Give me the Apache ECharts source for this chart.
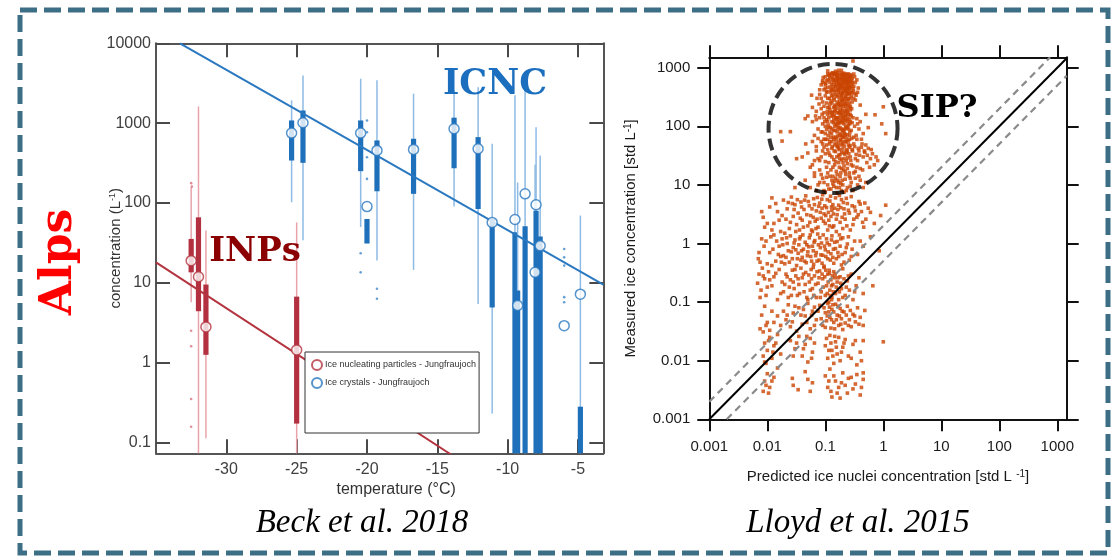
<!DOCTYPE html>
<html>
<head>
<meta charset="utf-8">
<script src="https://cdn.jsdelivr.net/npm/echarts@6/dist/echarts.min.js"></script>
<style>
  html, body { margin: 0; padding: 0; background: #fff; }
  #chart { width: 1114px; height: 556px; }
</style>
</head>
<body>
<div id="chart"></div>
<script>
// ---------- Beck et al. 2018: Jungfraujoch statistics per temperature bin ----------
// ice nucleating particles (L^-1)
const inpTemp = [-32.5, -31.98, -31.45, -25.0];
const inpLow  = [5.7, 0.03, 0.113, 0.03];
const inpQ1   = [13.5, 4.4, 1.25, 0.172];
const inpMean = [18.9, 11.9, 2.8, 1.44];
const inpQ3   = [35.4, 66, 9.5, 6.7];
const inpHigh = [157, 1620, 45, 57];
const inpOutlierTemp = [-32.5, -32.5, -32.5, -32.5, -32.5, -32.45];
const inpOutlierConc = [177, 2.5, 1.6, 0.35, 0.157, 160];

// ice crystals (L^-1)
const icncTemp = [-25.36, -24.55, -20.45, -20.0, -19.29, -16.69, -13.81, -12.1, -11.1, -9.48, -9.29, -8.76, -8.05, -7.98, -7.69, -5.98, -4.83];
const icncLow  = [102, 34, 50, null, 19, 14.5, 90, 5.4, 0.23, 0.03, 0.03, 0.03, 11, 0.03, 0.03, null, 0.03];
const icncQ1   = [340, 318, 250, 31, 140, 130, 272, 84, 4.9, 0.03, 0.03, 0.03, null, 0.03, 0.03, null, 0.03];
const icncMean = [750, 1010, 750, 90, 455, 468, 850, 477, 57, 62, 5.2, 130, 13.5, 95, 29, 2.9, 7.2];
const icncQ3   = [1080, 1440, 1080, 63, 607, 637, 1170, 668, 63, 43, 8, 51, null, 80, 38, null, 0.28];
const icncHigh = [1930, 3960, 3600, null, 3440, 2340, 2600, 2820, 552, 2230, 180, 2700, 300, 890, 394, null, 69.5];
const icncOutlierTemp = [-20.45, -20.45, -20.0, -20.0, -20.0, -20.0, -19.29, -19.29, -5.98, -5.98, -5.98, -5.98, -5.98];
const icncOutlierConc = [23.4, 13.5, 1080, 770, 374, 200, 8.4, 6.3, 26.5, 20.8, 16.4, 6.6, 5.7];

// exponential fits (end points)
const inpFit  = [[-35, 18], [-14, 0.07]];
const icncFit = [[-33.3, 10000], [-3.2, 9.5]];

const tempTicks = [-30, -25, -20, -15, -10, -5];
const concTicks = [0.1, 1, 10, 100, 1000, 10000];

// ---------- Lloyd et al. 2015: measured vs predicted (std L^-1) ----------
const lloydPoints = [
  // upper group (> 7 std L^-1)
  [0.30,1300],[0.11,780],[0.14,760],[0.17,900],[0.21,700],[0.25,780],[0.12,640],[0.16,600],[0.19,560],[0.23,650],
  [0.28,600],[0.32,700],[0.09,560],[0.13,520],[0.18,720],[0.20,800],[0.15,790],[0.24,540],[0.27,760],[0.10,700],
  [0.135,820],[0.22,770],[0.29,520],[0.35,620],[0.085,510],[0.155,700],[0.19,640],[0.26,680],[0.12,560],[0.17,520],
  [0.21,590],[0.14,640],[0.31,780],[0.105,600],[0.23,760],[0.16,820],[0.28,720],[0.2,520],[0.115,740],[0.25,580],
  [0.08,350],[0.095,420],[0.11,460],[0.125,380],[0.14,300],[0.15,470],[0.165,340],[0.18,420],[0.19,280],[0.2,360],
  [0.21,450],[0.225,310],[0.24,400],[0.26,250],[0.28,330],[0.3,440],[0.33,280],[0.36,380],[0.09,260],[0.1,330],
  [0.12,240],[0.13,430],[0.145,220],[0.16,260],[0.17,380],[0.185,230],[0.2,300],[0.215,250],[0.23,470],[0.25,360],
  [0.27,220],[0.29,260],[0.31,300],[0.4,230],[0.085,300],[0.105,380],[0.118,300],[0.135,340],[0.155,410],[0.175,300],
  [0.195,450],[0.205,220],[0.235,270],[0.255,430],[0.275,380],[0.34,340],[0.11,210],[0.15,230],[0.19,340],[0.22,400],
  [0.125,270],[0.165,450],[0.245,230],[0.305,400],[0.138,480],[0.182,490],[0.095,220],[0.265,480],[0.06,210],[0.058,340],
  [0.72,157],[0.94,110],[1.1,75],[1.0,215],[0.017,81],[0.025,81],[0.018,56],[0.045,135],[0.046,50],[0.032,28],
  [0.05,150],[0.06,120],[0.07,180],[0.075,90],[0.08,140],[0.09,110],[0.095,170],[0.1,75],[0.105,130],[0.11,160],
  [0.115,95],[0.12,190],[0.125,65],[0.13,120],[0.135,150],[0.14,85],[0.145,180],[0.15,110],[0.155,60],[0.16,140],
  [0.165,95],[0.17,170],[0.175,70],[0.18,125],[0.185,190],[0.19,90],[0.195,55],[0.2,150],[0.21,110],[0.215,75],
  [0.22,180],[0.23,130],[0.24,95],[0.25,160],[0.26,60],[0.27,120],[0.28,85],[0.3,140],[0.32,100],[0.34,70],
  [0.36,110],[0.38,90],[0.42,60],[0.45,75],[0.065,70],[0.085,55],[0.1,100],[0.115,140],[0.13,55],[0.145,100],
  [0.16,80],[0.175,115],[0.19,165],[0.205,65],[0.225,100],[0.245,140],[0.265,80],[0.29,115],[0.31,65],[0.35,135],
  [0.4,120],[0.5,160],[0.55,95],[0.07,130],[0.09,80],[0.11,60],[0.135,175],[0.155,130],[0.185,60],[0.27,190],
  [0.2,85],[0.17,52],
  [0.05,35],[0.06,22],[0.07,45],[0.075,28],[0.08,18],[0.09,38],[0.1,25],[0.105,48],[0.11,16],[0.12,32],
  [0.13,42],[0.135,20],[0.14,27],[0.15,37],[0.16,15],[0.165,46],[0.17,24],[0.18,33],[0.19,19],[0.2,41],
  [0.21,28],[0.22,17],[0.23,36],[0.24,23],[0.25,48],[0.27,30],[0.29,40],[0.3,21],[0.32,45],[0.34,33],
  [0.36,26],[0.38,38],[0.4,19],[0.42,44],[0.45,30],[0.48,36],[0.52,24],[0.55,42],[0.6,28],[0.65,34],
  [0.7,22],[0.8,26],[0.065,16],[0.085,30],[0.095,44],[0.115,35],[0.145,48],[0.175,40],[0.205,18],[0.26,16],
  [0.33,17],[0.44,18],[0.5,48],[0.58,20],[0.04,30],
  [0.045,12],[0.055,9],[0.065,14],[0.07,8],[0.08,11],[0.09,13],[0.1,7.5],[0.11,10],[0.12,14],[0.125,8.5],
  [0.13,12],[0.14,9.5],[0.15,13],[0.16,7.2],[0.17,11],[0.18,14],[0.19,8],[0.2,10],[0.22,12.5],[0.24,9],
  [0.26,14],[0.28,11],[0.3,8],[0.33,13],[0.36,10],[0.4,12],[0.45,9],[0.5,11],[0.075,10],[0.095,8],
  [0.105,13.5],[0.145,11.5],[0.175,9],[0.21,7.5],[0.03,9],
  [0.09,600],[0.1,450],[0.11,300],[0.12,720],[0.13,250],[0.14,560],[0.15,350],[0.16,680],[0.17,240],[0.18,520],
  [0.19,760],[0.2,270],[0.21,620],[0.22,330],[0.23,560],[0.24,700],[0.25,300],[0.26,540],[0.12,170],[0.13,90],
  [0.14,210],[0.15,140],[0.16,200],[0.17,110],[0.18,160],[0.19,120],[0.2,190],[0.21,140],[0.22,70],[0.23,200],
  [0.24,120],[0.25,90],[0.26,210],[0.28,150],[0.1,60],[0.11,120],[0.12,80],[0.13,170],[0.14,130],[0.15,65],
  [0.16,170],[0.17,140],[0.18,95],[0.19,70],[0.2,115],[0.21,88],[0.22,150],[0.23,62],[0.11,40],[0.12,55],
  [0.13,30],[0.14,60],[0.15,25],[0.16,45],[0.17,32],[0.18,58],[0.19,27],[0.2,50],[0.21,35],[0.22,55],
  [0.23,26],[0.24,38],[0.26,44],[0.28,22],[0.12,780],[0.14,790],[0.16,760],[0.18,800],[0.2,740],[0.24,770],
  [0.13,800],[0.15,870],[0.17,640],[0.19,900],[0.21,800],[0.27,700],[0.1,520],[0.11,880],[0.125,410],[0.135,620],
  [0.145,390],[0.155,540],[0.165,600],[0.175,460],[0.185,370],[0.195,610],[0.205,400],[0.215,520],[0.225,430],[0.235,350],
  [0.245,600],[0.255,470],[0.29,650],[0.31,480],[0.33,560],[0.37,450],[0.08,420],[0.085,200],[0.095,140],[0.105,250],
  [0.092,680],[0.102,540],[0.108,390],[0.112,620],[0.122,470],[0.128,330],[0.132,690],[0.138,420],[0.142,280],[0.148,610],
  [0.152,500],[0.158,320],[0.162,730],[0.168,410],[0.172,560],[0.178,260],[0.182,650],[0.188,330],[0.192,480],[0.198,700],
  [0.202,380],[0.208,560],[0.212,290],[0.218,670],[0.222,450],[0.228,240],[0.232,610],[0.238,380],[0.242,500],[0.248,290],
  [0.252,650],[0.258,360],[0.262,440],[0.268,580],[0.272,300],[0.278,470],[0.285,380],[0.295,560],[0.32,360],[0.118,210],
  [0.128,150],[0.138,115],[0.148,190],[0.158,105],[0.168,230],[0.178,180],[0.188,140],[0.198,240],[0.208,170],[0.218,125],
  [0.228,160],[0.238,185],[0.248,105],[0.258,130],[0.268,160],[0.285,200],[0.108,180],[0.098,120],[0.088,160],[0.078,240],
  [0.072,300],[0.068,150],[0.113,105],[0.143,155],[0.163,120],[0.183,215],[0.203,130],[0.223,225],[0.243,175],[0.263,110],
  [0.085,80],[0.095,60],[0.105,88],[0.112,70],[0.118,50],[0.122,95],[0.128,75],[0.132,45],[0.138,65],[0.142,38],
  [0.148,85],[0.152,52],[0.158,30],[0.162,68],[0.168,42],[0.172,90],[0.178,28],[0.182,76],[0.188,48],[0.192,36],
  [0.198,66],[0.202,24],[0.208,80],[0.212,46],[0.218,33],[0.222,92],[0.228,54],[0.232,40],[0.238,72],[0.242,29],
  [0.25,56],[0.255,34],[0.262,70],[0.268,47],[0.275,26],[0.285,62],[0.295,38],[0.31,50],[0.33,28],[0.35,60],
  [0.37,42],[0.39,32],[0.43,50],[0.47,38],[0.53,32],[0.62,40],[0.75,30],[0.06,55],[0.07,38],[0.075,62],
  [0.08,26],[0.09,50],[0.1,34],[0.105,20],[0.115,24],[0.125,18],[0.135,14],[0.145,22],[0.155,17],[0.165,12],
  [0.175,20],[0.185,16],[0.195,12],[0.21,21],[0.225,15],[0.24,19],[0.27,13],[0.31,16],[0.35,20],[0.38,14],
  [0.055,20],[0.065,26],[0.085,15],[0.095,11],[0.115,8.5],[0.135,10.5],[0.155,9],[0.185,10.5],[0.23,8],[0.27,9.5],
  // lower group (< 7 std L^-1)
  [0.0085,2.8],[0.009,1.9],[0.011,4.2],[0.013,2.2],[0.015,3.5],[0.017,1.6],[0.019,5.5],[0.021,2.6],[0.022,3.9],[0.024,1.8],
  [0.026,6.2],[0.028,2.9],[0.03,4.6],[0.032,2.1],[0.034,3.3],[0.036,1.7],[0.038,5.1],[0.04,2.5],[0.043,3.8],[0.046,6.5],
  [0.05,2.0],[0.053,4.4],[0.056,3.0],[0.06,1.6],[0.063,5.8],[0.067,2.4],[0.07,3.6],[0.075,1.9],[0.08,4.9],[0.085,2.7],
  [0.09,6.8],[0.095,3.2],[0.1,2.2],[0.105,4.1],[0.11,1.7],[0.12,5.3],[0.125,2.9],[0.13,3.7],[0.14,2.0],[0.15,6.0],
  [0.16,3.1],[0.17,4.5],[0.18,2.3],[0.19,5.6],[0.2,1.8],[0.21,3.9],[0.22,2.6],[0.24,4.8],[0.26,3.3],[0.28,6.3],
  [0.3,2.1],[0.32,4.2],[0.35,2.8],[0.38,5.2],[0.42,3.5],[0.46,1.9],[0.5,2.6],[0.55,4.0],[0.7,2.2],[0.9,3.0],
  [1.1,4.5],[0.012,6.0],[0.016,2.5],[0.027,4.8],[0.044,5.5],[0.058,1.7],[0.073,6.1],[0.088,4.0],[0.115,2.5],[0.135,4.6],
  [0.155,1.6],[0.175,6.6],[0.23,5.9],[0.27,1.7],[0.33,3.6],[0.4,4.7],
  [0.008,3.5],[0.01,2.2],[0.012,1.7],[0.014,4.8],[0.018,3.0],[0.02,1.5],[0.023,5.0],[0.025,2.3],[0.029,3.8],[0.031,1.6],
  [0.033,5.6],[0.037,2.7],[0.039,4.2],[0.042,1.9],[0.048,3.1],[0.051,5.2],[0.054,2.3],[0.059,3.9],[0.062,2.8],[0.065,4.6],
  [0.069,1.8],[0.072,2.6],[0.077,4.3],[0.082,3.4],[0.087,5.7],[0.093,2.4],[0.098,4.4],[0.102,3.0],[0.108,5.6],[0.113,3.4],
  [0.118,2.0],[0.123,6.4],[0.128,4.2],[0.133,1.9],[0.138,3.2],[0.145,4.0],[0.155,2.6],[0.165,3.8],[0.185,4.1],[0.195,2.8],
  [0.205,5.0],[0.215,3.2],[0.235,2.0],[0.25,3.7],[0.29,4.4],[0.31,2.6],[0.37,3.1],[0.44,2.3],[0.48,4.9],[0.6,3.4],
  [0.007,0.55],[0.0075,0.48],[0.0095,1.1],[0.011,0.7],[0.013,1.4],[0.014,0.5],[0.016,0.9],[0.018,1.2],[0.019,0.62],[0.02,0.45],
  [0.022,1.0],[0.023,0.75],[0.025,1.35],[0.027,0.55],[0.028,0.85],[0.03,1.15],[0.032,0.42],[0.034,0.68],[0.035,0.95],[0.037,1.3],
  [0.04,0.58],[0.042,0.8],[0.045,1.05],[0.047,0.47],[0.05,0.72],[0.053,1.25],[0.056,0.6],[0.06,0.9],[0.063,0.44],[0.066,1.12],
  [0.07,0.7],[0.074,1.45],[0.078,0.52],[0.082,0.85],[0.086,1.02],[0.09,0.63],[0.095,0.41],[0.1,0.78],[0.105,1.2],[0.11,0.55],
  [0.118,0.95],[0.125,0.67],[0.13,1.35],[0.14,0.46],[0.15,0.82],[0.16,1.08],[0.17,0.6],[0.18,0.9],[0.19,0.43],[0.2,1.25],
  [0.22,0.7],[0.24,0.98],[0.26,0.52],[0.29,0.8],[0.32,1.1],[0.36,0.65],[0.45,0.9],[0.6,1.3],[0.85,0.75],[0.012,0.42],
  [0.017,0.6],[0.024,0.48],[0.031,0.78],[0.038,0.52],[0.048,0.95],[0.058,0.5],[0.068,0.62],[0.092,1.4],[0.135,0.58],[0.175,1.4],
  [0.21,0.48],
  [0.0072,0.7],[0.008,1.2],[0.0088,0.9],[0.01,0.45],[0.0115,1.3],[0.0125,0.8],[0.0145,1.1],[0.0155,0.65],[0.0175,0.48],[0.0185,0.95],
  [0.021,0.58],[0.0215,1.25],[0.026,0.72],[0.029,1.02],[0.033,0.55],[0.036,1.2],[0.039,0.75],[0.041,1.4],[0.044,0.5],[0.049,0.62],
  [0.052,0.88],[0.055,1.4],[0.062,0.75],[0.064,1.05],[0.072,0.5],[0.076,0.95],[0.08,1.25],[0.084,0.64],[0.088,0.46],[0.097,0.9],
  [0.102,0.6],[0.108,1.02],[0.112,0.72],[0.122,0.52],[0.128,1.15],[0.138,0.8],[0.145,1.05],[0.155,0.55],[0.165,0.7],[0.185,1.2],
  [0.195,0.65],[0.23,0.85],[0.25,1.3],[0.28,0.6],[0.4,1.1],
  [0.0068,0.21],[0.0072,0.3],[0.0078,0.16],[0.0082,0.38],[0.009,0.25],[0.0095,0.13],[0.0105,0.33],[0.012,0.19],[0.013,0.27],[0.015,0.11],
  [0.016,0.36],[0.018,0.22],[0.019,0.15],[0.021,0.3],[0.023,0.12],[0.025,0.24],[0.027,0.35],[0.029,0.17],[0.031,0.28],[0.033,0.13],
  [0.035,0.2],[0.038,0.38],[0.04,0.26],[0.043,0.15],[0.046,0.32],[0.05,0.11],[0.053,0.22],[0.057,0.36],[0.06,0.17],[0.065,0.28],
  [0.07,0.12],[0.075,0.21],[0.08,0.34],[0.085,0.15],[0.09,0.25],[0.095,0.39],[0.1,0.13],[0.105,0.19],[0.11,0.3],[0.115,0.1],
  [0.12,0.16],[0.125,0.24],[0.13,0.12],[0.135,0.2],[0.14,0.33],[0.15,0.14],[0.16,0.22],[0.17,0.11],[0.18,0.27],[0.19,0.17],
  [0.2,0.37],[0.22,0.13],[0.24,0.23],[0.26,0.16],[0.28,0.3],[0.3,0.11],[0.34,0.19],[0.38,0.26],[0.45,0.14],[0.66,0.19],
  [0.024,0.18],[0.062,0.39],[0.117,0.35],[0.128,0.11],[0.145,0.26],
  [0.0075,0.12],[0.0085,0.28],[0.01,0.18],[0.011,0.24],[0.014,0.31],[0.017,0.14],[0.02,0.2],[0.022,0.27],[0.026,0.13],[0.028,0.22],
  [0.03,0.36],[0.034,0.25],[0.036,0.14],[0.042,0.3],[0.045,0.2],[0.048,0.12],[0.052,0.29],[0.055,0.16],[0.058,0.25],[0.063,0.13],
  [0.068,0.2],[0.072,0.33],[0.078,0.26],[0.082,0.12],[0.088,0.3],[0.092,0.18],[0.098,0.27],[0.102,0.35],[0.108,0.14],[0.112,0.22],
  [0.118,0.31],[0.122,0.13],[0.128,0.19],[0.132,0.28],[0.138,0.15],[0.148,0.3],[0.155,0.18],[0.165,0.26],[0.175,0.15],[0.185,0.21],
  [0.2,0.12],[0.21,0.25],[0.23,0.18],[0.25,0.28],[0.32,0.15],
  [0.0075,0.035],[0.008,0.06],[0.0085,0.031],[0.009,0.085],[0.01,0.045],[0.011,0.033],[0.019,0.07],[0.021,0.05],[0.023,0.09],[0.025,0.038],
  [0.028,0.065],[0.035,0.08],[0.04,0.042],[0.045,0.058],[0.05,0.095],[0.055,0.035],[0.06,0.07],[0.07,0.05],[0.08,0.088],[0.09,0.04],
  [0.1,0.066],[0.105,0.048],[0.11,0.095],[0.12,0.055],[0.125,0.036],[0.13,0.075],[0.14,0.045],[0.15,0.092],[0.16,0.06],[0.17,0.04],
  [0.18,0.078],[0.19,0.052],[0.2,0.034],[0.21,0.068],[0.22,0.044],[0.24,0.085],[0.26,0.05],[0.28,0.038],[0.3,0.062],[0.33,0.046],
  [0.36,0.08],[0.4,0.055],[0.45,0.04],[0.48,0.072],[0.015,0.058],[0.017,0.04],[0.032,0.032],[0.065,0.082],[0.115,0.068],[0.135,0.09],
  [0.0095,0.04],[0.012,0.07],[0.013,0.045],[0.022,0.06],[0.027,0.046],[0.03,0.085],[0.038,0.06],[0.042,0.075],[0.048,0.045],[0.058,0.06],
  [0.065,0.04],[0.075,0.07],[0.085,0.052],[0.095,0.08],[0.1,0.037],[0.108,0.058],[0.118,0.082],[0.128,0.05],[0.14,0.068],[0.145,0.035],
  [0.155,0.05],[0.165,0.085],[0.175,0.058],[0.185,0.042],[0.195,0.07],[0.23,0.06],[0.25,0.04],[0.27,0.072],[0.32,0.058],[0.38,0.042],
  [0.0085,0.012],[0.009,0.02],[0.0095,0.009],[0.01,0.015],[0.011,0.025],[0.012,0.011],[0.013,0.018],[0.015,0.028],[0.017,0.013],[0.025,0.022],
  [0.03,0.016],[0.035,0.026],[0.04,0.012],[0.045,0.019],[0.05,0.0095],[0.055,0.024],[0.06,0.014],[0.1,0.018],[0.11,0.011],[0.12,0.027],
  [0.13,0.015],[0.14,0.009],[0.15,0.021],[0.16,0.013],[0.17,0.025],[0.18,0.01],[0.2,0.017],[0.22,0.023],[0.25,0.012],[0.3,0.019],
  [0.35,0.0085],[0.4,0.014],[0.45,0.022],[1.0,0.021],[0.065,0.02],
  [0.009,0.0095],[0.0105,0.022],[0.0125,0.014],[0.014,0.02],[0.028,0.012],[0.032,0.02],[0.042,0.016],[0.048,0.026],[0.058,0.011],[0.105,0.024],
  [0.115,0.015],[0.125,0.02],[0.135,0.012],[0.145,0.026],[0.155,0.017],[0.19,0.014],[0.21,0.02],[0.28,0.011],[0.33,0.022],[0.42,0.01],
  [0.0085,0.003],[0.009,0.0045],[0.01,0.006],[0.011,0.0035],[0.013,0.0052],[0.027,0.005],[0.034,0.0032],[0.045,0.0065],[0.055,0.003],[0.06,0.0042],
  [0.1,0.0055],[0.11,0.0035],[0.12,0.0072],[0.13,0.0024],[0.15,0.0045],[0.16,0.0028],[0.18,0.0023],[0.2,0.0062],[0.22,0.0038],[0.25,0.005],
  [0.3,0.0033],[0.35,0.0058],[0.4,0.0026],[0.45,0.0048],[0.015,0.0075],
  [0.0095,0.0038],[0.0105,0.0028],[0.012,0.0045],[0.028,0.0038],[0.05,0.0048],[0.115,0.0045],[0.125,0.003],[0.14,0.0055],[0.17,0.0035],[0.19,0.0042],
  [0.24,0.0028],[0.28,0.0052],[0.33,0.004],[0.42,0.0035],[0.45,0.0062]
];
// 1:1 line and factor-of-two bounds (end points)
const oneToOne   = [[0.001, 0.001], [1452, 1452]];
const upperBound = [[0.001, 0.002], [752, 1504]];
const lowerBound = [[0.002, 0.001], [1452, 726]];
// highlighted region (centre of the dashed ring)
const sipCentre = [0.136, 92];
const decadeTicks = [0.001, 0.01, 0.1, 1, 10, 100, 1000];

const INP_NAME  = 'Ice nucleating particles - Jungfraujoch';
const ICNC_NAME = 'Ice crystals - Jungfraujoch';

const RED_BOX = '#b2303f', RED_WHISKER = '#e9a3ab', RED_LINE = '#b3343f', RED_DOT = '#d8707c';
const BLUE_BOX = '#1f70ba', BLUE_WHISKER = '#8dbbe5', BLUE_LINE = '#2a78c0', BLUE_DOT = '#3f87c9';
const SANS = '"Liberation Sans", Arial, sans-serif';

const zip = (...cols) => cols[0].map((_, i) => cols.map(c => c[i]));
const powLabel = v => {
  const l = Math.log10(v);
  return Math.abs(l - Math.round(l)) < 1e-6 ? String(Number(v.toPrecision(6))) : '';
};

function boxRenderer(boxColor, whiskerColor) {
  return function (params, api) {
    const cs = params.coordSys;
    const clamp = y => Math.max(cs.y, Math.min(cs.y + cs.height, y));
    const t = api.value(0);
    const low = api.value(1), q1 = api.value(2), q3 = api.value(4), high = api.value(5);
    const children = [];
    if (low > 0 && high > 0) {
      const a = api.coord([t, low]), b = api.coord([t, high]);
      children.push({ type: 'line', shape: { x1: a[0], y1: clamp(a[1]), x2: b[0], y2: clamp(b[1]) },
        style: { stroke: whiskerColor, lineWidth: 1.5 } });
    }
    if (q1 > 0 && q3 > 0) {
      const a = api.coord([t, q1]), b = api.coord([t, q3]);
      const y1 = clamp(Math.min(a[1], b[1])), y2 = clamp(Math.max(a[1], b[1]));
      children.push({ type: 'rect', shape: { x: a[0] - 2.6, y: y1, width: 5.2, height: y2 - y1 },
        style: { fill: boxColor } });
    }
    return { type: 'group', children };
  };
}

const leftFrame = { lineStyle: { color: '#555', width: 2 } };
const leftTick = { inside: true, length: 14, lineStyle: { color: '#4a4a4a', width: 2 } };
const rightFrame = { lineStyle: { color: '#111', width: 2 } };
const rightTick = { inside: false, length: 12, lineStyle: { color: '#111', width: 2 } };

const chart = echarts.init(document.getElementById('chart'), null, { renderer: 'canvas' });

chart.setOption({
  backgroundColor: '#fff',
  animation: false,
  grid: [
    { left: 156, top: 43.3, width: 447.3, height: 410 },
    { left: 709.3, top: 57.3, width: 357.4, height: 362 }
  ],
  xAxis: [
    { gridIndex: 0, type: 'value', position: 'bottom', min: -35, max: -3.2, interval: 5,
      axisLine: { onZero: false, ...leftFrame },
      axisTick: { ...leftTick, customValues: tempTicks },
      axisLabel: { customValues: tempTicks, color: '#404040', fontSize: 16, fontFamily: SANS, margin: 8 },
      splitLine: { show: false },
      name: 'temperature (°C)', nameLocation: 'middle', nameGap: 28, nameMoveOverlap: false,
      nameTextStyle: { color: '#333', fontSize: 16, fontFamily: SANS, padding: [0, 0, 0, 33] } },
    { gridIndex: 0, type: 'value', position: 'top', min: -35, max: -3.2, interval: 5,
      axisLine: { onZero: false, ...leftFrame },
      axisTick: { ...leftTick, customValues: tempTicks },
      axisLabel: { show: false }, splitLine: { show: false } },
    { gridIndex: 1, type: 'log', logBase: 10, position: 'bottom', min: 0.001, max: 1452,
      axisLine: { onZero: false, ...rightFrame },
      axisTick: { ...rightTick, customValues: decadeTicks },
      axisLabel: { customValues: decadeTicks, formatter: powLabel, color: '#1a1a1a', fontSize: 15, fontFamily: SANS, margin: 20 },
      splitLine: { show: false }, minorTick: { show: false },
      name: 'Predicted ice nuclei concentration [std L {sup|-1}]', nameLocation: 'middle', nameGap: 50, nameMoveOverlap: false,
      nameTextStyle: { color: '#1a1a1a', fontSize: 15, fontFamily: SANS,
        rich: { sup: { fontSize: 10, verticalAlign: 'top', fontFamily: SANS, color: '#1a1a1a' } } } },
    { gridIndex: 1, type: 'log', logBase: 10, position: 'top', min: 0.001, max: 1452,
      axisLine: { onZero: false, ...rightFrame },
      axisTick: { ...rightTick, customValues: decadeTicks },
      axisLabel: { show: false }, splitLine: { show: false } }
  ],
  yAxis: [
    { gridIndex: 0, type: 'log', logBase: 10, position: 'left', min: 0.073, max: 10000,
      axisLine: { onZero: false, ...leftFrame },
      axisTick: { ...leftTick, customValues: concTicks },
      axisLabel: { customValues: concTicks, formatter: powLabel, color: '#404040', fontSize: 16, fontFamily: SANS, margin: 5 },
      splitLine: { show: false },
      name: 'concentration (L{sup|-1})', nameLocation: 'middle', nameGap: 33, nameMoveOverlap: false,
      nameTextStyle: { color: '#333', fontSize: 15, fontFamily: SANS,
        rich: { sup: { fontSize: 9, verticalAlign: 'top', fontFamily: SANS, color: '#333' } } } },
    { gridIndex: 0, type: 'log', logBase: 10, position: 'right', min: 0.073, max: 10000,
      axisLine: { onZero: false, ...leftFrame },
      axisTick: { ...leftTick, customValues: concTicks },
      axisLabel: { show: false }, splitLine: { show: false } },
    { gridIndex: 1, type: 'log', logBase: 10, position: 'left', min: 0.001, max: 1504,
      axisLine: { onZero: false, ...rightFrame },
      axisTick: { ...rightTick, customValues: decadeTicks },
      axisLabel: { customValues: decadeTicks, formatter: powLabel, color: '#1a1a1a', fontSize: 15, fontFamily: SANS, margin: 19 },
      splitLine: { show: false },
      name: 'Measured ice concentration [std L{sup|-1}]', nameLocation: 'middle', nameGap: 71, nameMoveOverlap: false,
      nameTextStyle: { color: '#1a1a1a', fontSize: 15, fontFamily: SANS,
        rich: { sup: { fontSize: 10, verticalAlign: 'top', fontFamily: SANS, color: '#1a1a1a' } } } },
    { gridIndex: 1, type: 'log', logBase: 10, position: 'right', min: 0.001, max: 1504,
      axisLine: { onZero: false, ...rightFrame },
      axisTick: { ...rightTick, customValues: decadeTicks },
      axisLabel: { show: false }, splitLine: { show: false } }
  ],
  legend: {
    left: 305, top: 352, orient: 'vertical',
    padding: [7, 3, 44, 6], itemGap: 6, itemWidth: 10, itemHeight: 10,
    backgroundColor: '#fff', borderColor: '#333', borderWidth: 1,
    selectedMode: false, z: 20,
    textStyle: { fontSize: 9, color: '#333', fontFamily: SANS, padding: [0, 0, 0, -2] },
    data: [{ name: INP_NAME, icon: 'circle' }, { name: ICNC_NAME, icon: 'circle' }]
  },
  graphic: [
    { type: 'rect', silent: true, z: -10,
      shape: { x: 20, y: 10, width: 1088, height: 543 },
      style: { fill: 'none', stroke: '#3c6e86', lineWidth: 5, lineDash: [17, 7] } },
    { type: 'text', x: 495, y: 85, z: 30, silent: true,
      style: { text: 'ICNC', font: 'bold 35px "DejaVu Serif"', fill: '#1b6fbe', align: 'center', verticalAlign: 'middle' } },
    { type: 'text', x: 255, y: 252, z: 30, silent: true,
      style: { text: 'INPs', font: 'bold 34px "DejaVu Serif"', fill: '#8b0000', align: 'center', verticalAlign: 'middle' } },
    { type: 'text', x: 937, y: 109, z: 30, silent: true,
      style: { text: 'SIP?', font: 'bold 32px "DejaVu Serif"', fill: '#000', align: 'center', verticalAlign: 'middle' } },
    { type: 'text', x: 60, y: 262, rotation: Math.PI / 2, z: 30, silent: true,
      style: { text: 'Alps', font: 'bold 44px "DejaVu Serif"', fill: '#ff0000', align: 'center', verticalAlign: 'middle' } },
    { type: 'text', x: 362, y: 523, z: 30, silent: true,
      style: { text: 'Beck et al. 2018', font: 'italic 33px "Liberation Serif"', fill: '#000', align: 'center', verticalAlign: 'middle' } },
    { type: 'text', x: 858, y: 523, z: 30, silent: true,
      style: { text: 'Lloyd et al. 2015', font: 'italic 33px "Liberation Serif"', fill: '#000', align: 'center', verticalAlign: 'middle' } }
  ],
  series: [
    // box/whisker bodies
    { type: 'custom', name: 'inp-box', xAxisIndex: 0, yAxisIndex: 0, z: 2, silent: true,
      renderItem: boxRenderer(RED_BOX, RED_WHISKER), encode: { x: 0, y: 3 },
      data: zip(inpTemp, inpLow, inpQ1, inpMean, inpQ3, inpHigh) },
    { type: 'custom', name: 'icnc-box', xAxisIndex: 0, yAxisIndex: 0, z: 2, silent: true,
      renderItem: boxRenderer(BLUE_BOX, BLUE_WHISKER), encode: { x: 0, y: 3 },
      data: zip(icncTemp, icncLow, icncQ1, icncMean, icncQ3, icncHigh) },
    // outliers
    { type: 'scatter', name: 'inp-out', xAxisIndex: 0, yAxisIndex: 0, symbolSize: 2.6, z: 3, silent: true,
      itemStyle: { color: RED_DOT }, data: zip(inpOutlierTemp, inpOutlierConc) },
    { type: 'scatter', name: 'icnc-out', xAxisIndex: 0, yAxisIndex: 0, symbolSize: 2.6, z: 3, silent: true,
      itemStyle: { color: BLUE_DOT }, data: zip(icncOutlierTemp, icncOutlierConc) },
    // fits
    { type: 'line', name: 'inp-fit', xAxisIndex: 0, yAxisIndex: 0, symbol: 'none', z: 4, silent: true,
      lineStyle: { color: RED_LINE, width: 2 }, data: inpFit },
    { type: 'line', name: 'icnc-fit', xAxisIndex: 0, yAxisIndex: 0, symbol: 'none', z: 4, silent: true,
      lineStyle: { color: BLUE_LINE, width: 2 }, data: icncFit },
    // means
    { type: 'scatter', name: INP_NAME, xAxisIndex: 0, yAxisIndex: 0, symbol: 'circle', symbolSize: 10, z: 5,
      itemStyle: { color: '#fff', borderColor: RED_LINE, borderWidth: 1.5 }, data: zip(inpTemp, inpMean) },
    { type: 'scatter', name: ICNC_NAME, xAxisIndex: 0, yAxisIndex: 0, symbol: 'circle', symbolSize: 10, z: 5,
      itemStyle: { color: '#fff', borderColor: BLUE_LINE, borderWidth: 1.5 }, data: zip(icncTemp, icncMean) },

    // Lloyd et al. panel
    { type: 'scatter', name: 'lloyd', xAxisIndex: 2, yAxisIndex: 2, symbol: 'rect', symbolSize: 3.6, z: 2, silent: true,
      itemStyle: { color: '#c94400' }, data: lloydPoints },
    { type: 'line', name: 'upper', xAxisIndex: 2, yAxisIndex: 2, symbol: 'none', z: 3, silent: true,
      lineStyle: { color: '#8a8a8a', width: 2.2, type: [7, 5] }, data: upperBound },
    { type: 'line', name: 'lower', xAxisIndex: 2, yAxisIndex: 2, symbol: 'none', z: 3, silent: true,
      lineStyle: { color: '#8a8a8a', width: 2.2, type: [7, 5] }, data: lowerBound },
    { type: 'line', name: 'one', xAxisIndex: 2, yAxisIndex: 2, symbol: 'none', z: 4, silent: true,
      lineStyle: { color: '#000', width: 2 }, data: oneToOne },
    { type: 'scatter', name: 'ring', xAxisIndex: 2, yAxisIndex: 2, symbol: 'circle', symbolSize: 129, z: 6, silent: true,
      itemStyle: { color: 'rgba(0,0,0,0)', borderColor: '#000', borderWidth: 4, borderType: [12, 6] },
      data: [sipCentre] }
  ]
});
</script>
</body>
</html>
